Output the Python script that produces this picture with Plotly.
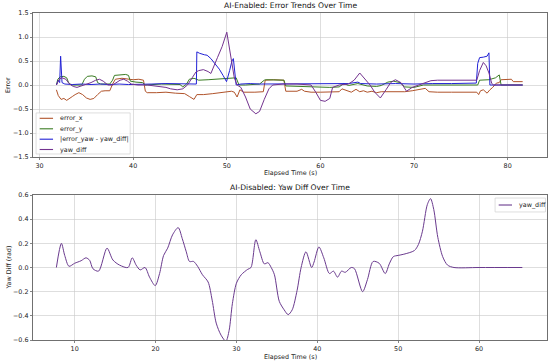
import plotly.graph_objects as go

# ---------------- Top chart data (AI-Enabled) ----------------
ex_t = [31.8, 32.0, 32.3, 32.6, 32.9, 33.2, 33.5, 33.8, 34.2, 34.6, 35.0, 35.4, 35.8, 36.2, 36.6, 37.0, 37.5,
        37.8, 38.1, 38.8, 39.4, 40.0, 40.6, 41.1, 41.3, 41.5, 42.5, 43.5, 44.5, 45.5, 46.0, 46.5, 46.8, 47.5,
        48.5, 49.5, 50.5, 50.8, 51.1, 51.4, 51.8, 53.0, 53.9, 54.1, 55.0, 56.1, 56.3, 57.5, 58.0, 58.3, 59.0,
        60.0, 61.0, 62.0, 62.3, 62.8, 63.3, 63.8, 64.2, 64.6, 65.0, 65.5, 66.0, 66.5, 67.0, 68.0, 69.0, 69.8,
        70.5, 71.2, 71.6, 72.5, 74.0, 75.5, 76.7, 76.9, 77.1, 77.4, 77.8, 78.1, 78.4, 78.8, 79.1, 79.3, 80.4,
        80.6, 81.6]
ex_v = [-0.10, -0.22, -0.30, -0.28, -0.32, -0.27, -0.24, -0.20, -0.16, -0.20, -0.27, -0.30, -0.28, -0.20, -0.13,
        -0.12, -0.12, 0.02, 0.12, 0.14, 0.12, 0.11, 0.12, 0.10, -0.13, -0.16, -0.16, -0.15, -0.17, -0.18, -0.24,
        -0.30, -0.20, -0.20, -0.18, -0.16, -0.13, -0.15, -0.25, -0.10, -0.15, -0.15, -0.14, 0.10, 0.11, 0.10,
        -0.13, -0.13, -0.09, -0.13, -0.15, -0.15, -0.15, -0.14, -0.08, -0.12, -0.15, -0.09, -0.14, -0.12, -0.15,
        -0.13, -0.16, -0.14, -0.14, -0.15, -0.14, -0.12, -0.10, -0.07, -0.14, -0.15, -0.15, -0.15, -0.15, -0.20,
        -0.12, -0.10, -0.17, -0.10, -0.05, 0.04, 0.05, 0.11, 0.12, 0.07, 0.07]

ey_t = [31.8, 31.95, 32.2, 32.6, 32.9, 33.1, 33.4, 34.5, 34.8, 35.1, 35.6, 36.0, 36.2, 36.5, 37.5, 37.8, 38.0,
        38.6, 39.2, 39.5, 39.7, 40.3, 41.0, 41.3, 43.0, 45.0, 45.3, 45.7, 46.0, 46.5, 47.0, 48.0, 49.0, 50.0,
        51.0, 51.3, 52.0, 53.5, 54.0, 54.2, 56.1, 56.3, 58.0, 59.5, 61.0, 62.0, 62.5, 63.0, 64.0, 65.0, 66.0,
        66.5, 67.2, 67.8, 68.5, 69.0, 70.0, 71.0, 72.0, 74.0, 76.8, 77.0, 78.0, 78.7, 79.1, 79.3, 80.0, 81.6]
ey_v = [0.0, 0.12, 0.17, 0.18, 0.15, 0.05, 0.0, 0.0, 0.12, 0.18, 0.19, 0.17, 0.05, 0.02, 0.02, 0.10, 0.20,
        0.21, 0.22, 0.20, 0.08, 0.06, 0.05, 0.0, 0.02, 0.01, -0.04, 0.02, 0.12, 0.14, 0.10, 0.11, 0.12, 0.13,
        0.15, 0.0, 0.0, 0.02, 0.10, 0.11, 0.10, -0.02, -0.03, -0.04, -0.05, -0.04, 0.03, -0.01, 0.03, -0.02,
        -0.03, -0.01, 0.06, 0.08, 0.05, -0.04, -0.05, 0.0, 0.0, 0.0, 0.0, 0.10, 0.11, 0.15, 0.21, 0.0, 0.0, 0.0]

ed_t = [31.8, 32.0, 32.15, 32.25, 32.4, 32.7, 33.5, 34.5, 35.5, 36.5, 37.5, 38.5, 39.5, 40.5, 42.0, 43.5, 45.0,
        46.0, 46.75, 46.8, 47.1, 47.6, 47.9, 48.3, 48.7, 49.2, 49.6, 49.97, 50.3, 50.55, 50.7, 50.85, 51.0,
        51.5, 52.5, 53.5, 55.0, 57.0, 59.0, 61.0, 63.0, 64.0, 64.3, 66.0, 68.0, 70.0, 71.0, 72.0, 74.0, 76.65,
        76.8, 77.0, 77.4, 77.8, 78.0, 78.1, 79.0, 81.6]
ed_v = [0.0, 0.10, 0.05, 0.60, 0.05, 0.02, 0.01, 0.02, 0.01, 0.02, 0.01, 0.02, 0.01, 0.02, 0.02, 0.03, 0.02,
        0.02, 0.02, 0.69, 0.66, 0.63, 0.62, 0.55, 0.45, 0.33, 0.20, 0.07, 0.30, 0.50, 0.55, 0.30, 0.0,
        0.02, 0.03, 0.02, 0.02, 0.03, 0.03, 0.02, 0.03, 0.06, 0.03, 0.02, 0.03, 0.02, 0.03, 0.03, 0.03, 0.04,
        0.45, 0.57, 0.58, 0.60, 0.67, 0.0, 0.0, 0.0]

yd_t = [31.8, 32.1, 32.4, 32.8, 33.2, 33.6, 34.0, 34.5, 35.0, 35.5, 36.0, 36.4, 36.8, 37.3, 37.8, 38.2, 38.6,
        39.0, 39.4, 39.8, 40.5, 41.5, 42.5, 43.5, 44.0, 44.7, 45.3, 45.8, 46.3, 46.7, 47.0, 47.5, 48.0, 48.3,
        49.0, 49.5, 50.0, 50.4, 50.8, 51.1, 51.5, 52.0, 52.5, 53.1, 53.5, 54.0, 54.5, 54.9, 56.0, 57.5, 59.0,
        59.5, 60.0, 60.5, 61.0, 61.3, 62.0, 63.0, 63.6, 64.2, 64.8, 65.3, 65.8, 66.4, 67.0, 67.5, 68.0, 68.6,
        69.2, 69.8, 70.5, 71.2, 71.8, 72.5, 74.0, 76.7, 77.0, 77.4, 77.7, 78.0, 78.3, 78.5, 80.0, 81.6]
yd_v = [0.0, 0.12, 0.15, 0.12, 0.02, -0.03, -0.05, -0.02, 0.02, 0.05, 0.10, 0.12, 0.08, 0.0, 0.0, 0.05, 0.10,
        0.12, 0.08, 0.02, 0.0, 0.0, -0.02, -0.05, -0.08, -0.10, -0.08, 0.0, 0.15, 0.27, 0.30, 0.32, 0.28, 0.24,
        0.57, 0.80, 1.10, 0.60, 0.15, 0.0, -0.05, -0.25, -0.50, -0.60, -0.55, -0.30, -0.08, 0.0, 0.02, 0.02,
        0.0, -0.15, -0.32, -0.34, -0.28, -0.05, 0.0, 0.02, 0.10, 0.25, 0.12, 0.0, -0.15, -0.27, -0.10, 0.05,
        0.11, 0.05, -0.13, -0.05, 0.0, 0.05, 0.09, 0.10, 0.10, 0.10, 0.30, 0.47, 0.40, 0.25, 0.03, 0.0, 0.0, 0.0]

# ---------------- Bottom chart data (AI-Disabled) ----------------
b_t = [7.74, 8.36, 8.77, 9.3, 10.0, 10.8, 11.4, 11.85, 12.26, 12.96, 14.0, 14.73, 15.55, 16.6, 17.12, 17.6,
       18.1, 18.7, 19.26, 19.96, 20.5, 21.0, 21.5, 22.1, 22.8, 23.3, 23.8, 24.2, 24.7, 25.2, 25.8, 26.5, 27.0,
       27.5, 28.1, 28.7, 29.1, 29.5, 30.0, 30.6, 31.4, 31.8, 32.4, 32.9, 33.45, 33.9, 34.3, 34.7, 35.3, 35.9,
       36.4, 36.9, 37.5, 38.0, 38.6, 39.3, 39.6, 40.2, 40.8, 41.5, 42.0, 42.5, 43.0, 43.45, 44.2, 44.6, 45.6,
       46.2, 46.9, 47.65, 48.4, 48.9, 49.4, 50.0, 50.7, 52.0, 52.5, 53.0, 53.6, 54.0, 54.4, 54.9, 55.5, 56.1,
       56.9, 60.0, 65.35]
b_v = [0.0, 0.20, 0.10, 0.01, 0.035, 0.056, 0.08, 0.06, -0.01, -0.03, 0.16, 0.062, 0.02, 0.0, 0.08, 0.02,
       -0.02, 0.0, -0.08, -0.15, -0.05, 0.10, 0.16, 0.27, 0.33, 0.24, 0.13, 0.05, 0.05, 0.01, -0.06, -0.12,
       -0.27, -0.46, -0.56, -0.61, -0.52, -0.30, -0.13, -0.06, -0.015, 0.0, 0.23, 0.13, 0.03, 0.04, 0.0, -0.06,
       -0.28, -0.35, -0.39, -0.35, -0.19, 0.0, 0.13, 0.0, 0.045, 0.17, 0.08, -0.05, -0.03, -0.08, -0.03, -0.04,
       0.0, -0.01, -0.20, -0.10, 0.05, 0.035, -0.05, 0.03, 0.09, 0.10, 0.11, 0.14, 0.19, 0.30, 0.52, 0.57, 0.48,
       0.25, 0.09, 0.02, 0.0, 0.0, 0.0]

top_xticks = [30, 40, 50, 60, 70, 80]
bot_xticks = [10, 20, 30, 40, 50, 60]
top_names = ["error_x", "error_y", "|error_yaw - yaw_diff|", "yaw_diff"]
bot_names = ["yaw_diff"]

C_X = "#b0532a"
C_Y = "#3b7d23"
C_D = "#2222d6"
C_YAW = "#73338f"
C_B = "#6a3a8e"
top_colors = [C_X, C_Y, C_D, C_YAW]

FONT = "DejaVu Sans"
TICK = 6.4

fig = go.Figure()
top_series = [(ex_t, ex_v), (ey_t, ey_v), (ed_t, ed_v), (yd_t, yd_v)]
for (tt, vv), nm, col in zip(top_series, top_names, top_colors):
    fig.add_trace(go.Scatter(x=tt, y=vv, mode="lines", name=nm, line=dict(color=col, width=1),
                             xaxis="x", yaxis="y", showlegend=False))
fig.add_trace(go.Scatter(x=b_t, y=b_v, mode="lines", name=bot_names[0],
                         line=dict(color=C_B, width=1, shape="spline", smoothing=0.8),
                         xaxis="x2", yaxis="y2", showlegend=False))

axis_common = dict(showgrid=True, gridcolor="#c8c8c8", gridwidth=0.6, showline=True, mirror=True,
                   linecolor="#333333", linewidth=0.7, ticks="outside", ticklen=2.5, tickwidth=0.6,
                   tickcolor="#333333", tickfont=dict(size=TICK, family=FONT, color="#222"), zeroline=False,
                   automargin=False)

top_bottom = (340 - 157) / 327
bot_top = (340 - 195) / 327

shapes = []
annotations = []

# ---- compact matplotlib-style legends (drawn as layout decorations) ----
shapes.append(dict(type="rect", xref="x domain", yref="y domain", x0=0.006, x1=0.189, y0=0.021, y1=0.306,
                   line=dict(color="#d0d0d0", width=0.7), fillcolor="rgba(255,255,255,0.8)", layer="above"))
entry_y = [(157 - yy) / 144 for yy in (118.3, 128.8, 139.2, 149.5)]
for nm, col, ey in zip(top_names, top_colors, entry_y):
    shapes.append(dict(type="line", xref="x domain", yref="y domain", x0=0.013, x1=0.039, y0=ey, y1=ey,
                       line=dict(color=col, width=1.1), layer="above"))
    annotations.append(dict(text=nm, xref="x domain", yref="y domain", x=0.049, y=ey, xanchor="left",
                            yanchor="middle", showarrow=False, font=dict(size=TICK, family=FONT, color="#222")))

shapes.append(dict(type="rect", xref="x2 domain", yref="y2 domain", x0=0.899, x1=0.997, y0=0.883, y1=0.979,
                   line=dict(color="#d0d0d0", width=0.7), fillcolor="rgba(255,255,255,0.8)", layer="above"))
shapes.append(dict(type="line", xref="x2 domain", yref="y2 domain", x0=0.906, x1=0.932, y0=0.931, y1=0.931,
                   line=dict(color=C_B, width=1.1), layer="above"))
annotations.append(dict(text=bot_names[0], xref="x2 domain", yref="y2 domain", x=0.942, y=0.931, xanchor="left",
                        yanchor="middle", showarrow=False, font=dict(size=TICK, family=FONT, color="#222")))

# titles and axis labels
annotations += [
    dict(text="AI-Enabled: Error Trends Over Time", xref="x domain", yref="y domain", x=0.5, y=1,
         xanchor="center", yanchor="bottom", yshift=1, showarrow=False, font=dict(size=7.6, family=FONT, color="#111")),
    dict(text="AI-Disabled: Yaw Diff Over Time", xref="x2 domain", yref="y2 domain", x=0.5, y=1,
         xanchor="center", yanchor="bottom", yshift=1, showarrow=False, font=dict(size=7.6, family=FONT, color="#111")),
    dict(text="Elapsed Time (s)", xref="x domain", yref="y domain", x=0.5, y=0, xanchor="center",
         yanchor="middle", yshift=-15.5, showarrow=False, font=dict(size=TICK, family=FONT, color="#222")),
    dict(text="Elapsed Time (s)", xref="x2 domain", yref="y2 domain", x=0.5, y=0, xanchor="center",
         yanchor="middle", yshift=-16.5, showarrow=False, font=dict(size=TICK, family=FONT, color="#222")),
    dict(text="Error", xref="paper", yref="y domain", x=0, y=0.5, xanchor="center", yanchor="middle",
         xshift=-25, textangle=-90, showarrow=False, font=dict(size=TICK, family=FONT, color="#222")),
    dict(text="Yaw Diff (rad)", xref="paper", yref="y2 domain", x=0, y=0.5, xanchor="center", yanchor="middle",
         xshift=-25, textangle=-90, showarrow=False, font=dict(size=TICK, family=FONT, color="#222")),
]

fig.update_layout(
    width=550, height=363,
    margin=dict(l=33, r=3, t=13, b=23, autoexpand=False),
    paper_bgcolor="white", plot_bgcolor="white",
    font=dict(family=FONT, size=TICK, color="#222"),
    showlegend=False,
    hovermode=False,
    xaxis=dict(domain=[0, 1], anchor="y", range=[29.3, 84.2], tickvals=top_xticks, **axis_common),
    yaxis=dict(domain=[top_bottom, 1], anchor="x", range=[-1.5, 1.5], dtick=0.5, tick0=0, tickformat=".1f",
               **axis_common),
    xaxis2=dict(domain=[0, 1], anchor="y2", range=[4.85, 68.4], tickvals=bot_xticks, **axis_common),
    yaxis2=dict(domain=[0, bot_top], anchor="x2", range=[-0.6, 0.6], dtick=0.2, tick0=0, tickformat=".1f",
                **axis_common),
    shapes=shapes,
    annotations=annotations,
)

fig.write_html("out.html", config={"displayModeBar": False, "staticPlot": True},
               post_script="document.body.style.margin='0';document.body.style.padding='0';"
                           "document.body.style.overflow='hidden';")
